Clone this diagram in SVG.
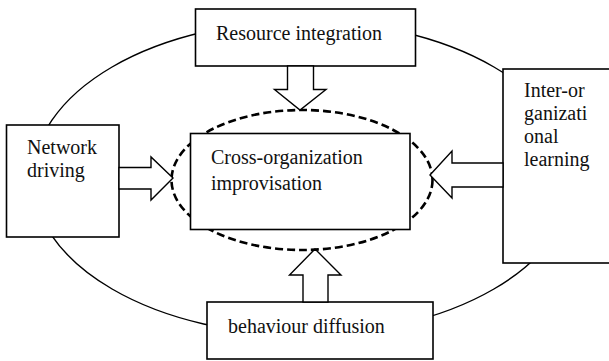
<svg xmlns="http://www.w3.org/2000/svg" width="609" height="361" viewBox="0 0 609 361">
<style>
.box{fill:#fff;stroke:#000;stroke-width:1.6}
.arrow{fill:#fff;stroke:#000;stroke-width:1.4;stroke-linejoin:miter}
.lbl{font-family:"Liberation Serif","Times New Roman",serif;font-size:20px;fill:#111}
</style>
<rect width="609" height="361" fill="#fff"/>
<g id="connectors">
<ellipse id="outer-cycle" cx="303" cy="178" rx="270" ry="157" fill="none" stroke="#000" stroke-width="1.4"/>
<ellipse id="core-boundary" cx="302" cy="180" rx="130.5" ry="70" fill="none" stroke="#000" stroke-width="2.6" stroke-dasharray="8,4"/>
</g>
<g id="node-resource">
<rect class="box" x="195.5" y="9" width="220" height="57"/>
<text class="lbl" x="216" y="40">Resource integration</text>
</g>
<g id="node-network">
<rect class="box" x="6.5" y="125" width="112.5" height="112"/>
<text class="lbl" x="27" y="154">Network</text>
<text class="lbl" x="27" y="177">driving</text>
</g>
<g id="node-inter">
<rect class="box" x="503" y="69" width="110" height="194"/>
<text class="lbl" x="524" y="96.5">Inter-or</text>
<text class="lbl" x="524" y="119.5">ganizati</text>
<text class="lbl" x="524" y="142.5">onal</text>
<text class="lbl" x="524" y="166">learning</text>
</g>
<g id="node-behaviour">
<rect class="box" x="207" y="302" width="226" height="57"/>
<text class="lbl" x="228" y="333">behaviour diffusion</text>
</g>
<g id="node-core">
<rect class="box" x="190.5" y="133.5" width="219.5" height="96"/>
<text class="lbl" x="211" y="164">Cross-organization</text>
<text class="lbl" x="211" y="189.5">improvisation</text>
</g>
<g id="arrows">
<polygon class="arrow" points="287.5,66 313.5,66 313.5,89.5 326,89.5 300,110 274.5,89.5 287.5,89.5"/>
<polygon class="arrow" points="119,167.5 151,167.5 151,157 173,178 151,200 151,189 119,189"/>
<polygon class="arrow" points="503,163 452,163 452,151 430,175 452,198 452,187 503,187"/>
<polygon class="arrow" points="303,302 303,275 289.5,275 315,249 341,275 328,275 328,302"/>
</g>
</svg>
